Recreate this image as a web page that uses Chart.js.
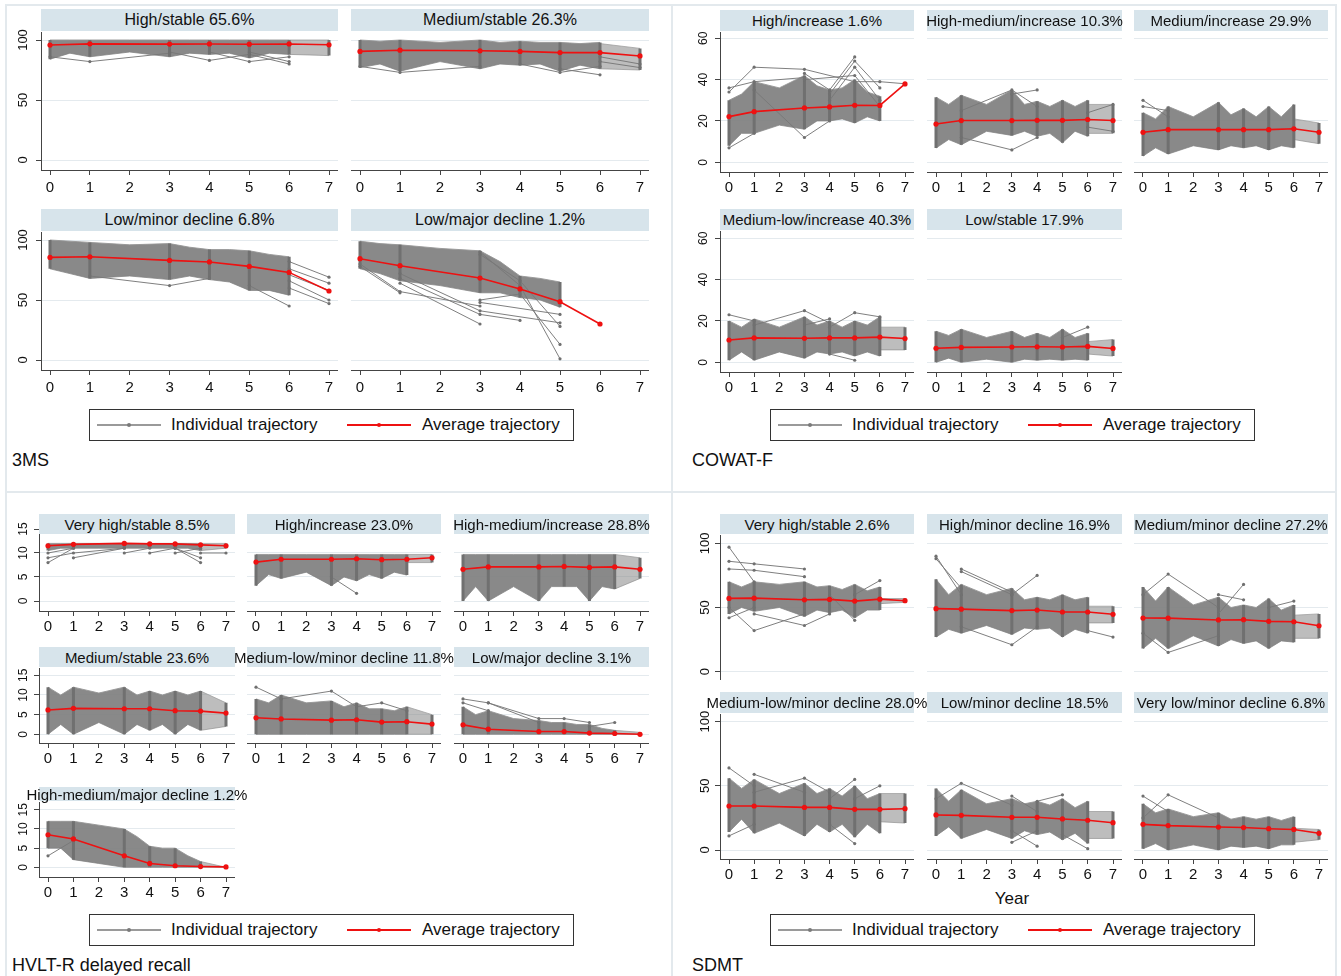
<!DOCTYPE html>
<html><head><meta charset="utf-8">
<script src="https://cdn.jsdelivr.net/npm/chart.js@4.4.1/dist/chart.umd.min.js"></script>
<style>
html,body{margin:0;padding:0;background:#fff;}
#stage{position:relative;width:1341px;height:976px;overflow:hidden;font-family:"Liberation Sans",Arial,Helvetica,sans-serif;color:#111;}
.frame{position:absolute;background:#e3e9ed;}
.hdr{position:absolute;background:#d7e4eb;display:flex;align-items:center;justify-content:center;white-space:nowrap;overflow:visible;color:#111;z-index:2;}
.legend{position:absolute;width:485px;height:32px;border:1px solid #333;box-sizing:border-box;background:#fff;}
.lgl{position:absolute;top:14px;width:64px;height:2px;}
.lgd{position:absolute;top:13px;width:4px;height:4px;border-radius:50%;}
.lgt{position:absolute;top:0;line-height:30px;font-size:17px;white-space:nowrap;color:#111;}
.ttl{position:absolute;font-size:18px;line-height:22px;white-space:nowrap;color:#111;}
</style></head>
<body><div id="stage"></div>
<script>
// ---------- shared axes / labels ----------
const YEARS = [0,1,2,3,4,5,6,7];
const YEAR_LABELS = ['0','1','2','3','4','5','6','7'];
const BAND_X = [0,0.5,1,2,3,3.5,4,4.5,5,5.5,6];
const TAIL_X = [6,7];
const LEGEND_LABELS = ['Individual trajectory','Average trajectory'];
const QUAD_TITLES = ['3MS','COWAT-F','HVLT-R delayed recall','SDMT'];
const X_TITLE = 'Year';

// ---------- 3MS ----------
const ms3_yticks = [0,50,100];
const ms3_labels = ['High/stable 65.6%','Medium/stable 26.3%','Low/minor decline 6.8%','Low/major decline 1.2%'];
const ms3_hs_avg = [95.8,96.8,null,96.6,96.7,96.5,96.7,96.0];
const ms3_hs_hi = [100,100,100,100,100,100,100,100,100,100,100];
const ms3_hs_lo = [84,89,86,90,86,89,88,89,85,89,88];
const ms3_hs_tailHi = [100,100];
const ms3_hs_tailLo = [88,87];
const ms3_hs_out = [[[0,86],[1,82],[3,89]],[[3,90],[4,83],[5,88]],[[4,90],[5,82],[6,86]],[[5,88],[6,80]],[[5,90],[6,82]]];

const ms3_ms_avg = [90.5,91.5,null,91,90.5,89.5,89.5,86.7];
const ms3_ms_hi = [100,99,100,98,100,98,99,98,98,97,98];
const ms3_ms_lo = [77,80,74,82,76,80,79,80,74,79,76];
const ms3_ms_tailHi = [97,93];
const ms3_ms_tailLo = [76,75];
const ms3_ms_out = [[[0,78],[1,73],[3,78]],[[4,80],[5,73],[6,78]],[[5,76],[6,71]],[[6,86],[7,80]],[[6,82],[7,77]]];

const ms3_lm_avg = [85.5,86,null,83,81.7,78,73,57.5];
const ms3_lm_hi = [100,99,98,96,97,94,92,92,91,88,86];
const ms3_lm_lo = [76,72,68,70,67,70,67,65,58,58,54];
const ms3_lm_out = [[[1,70],[3,62],[4,68]],[[5,62],[6,45]],[[6,82],[7,69]],[[6,76],[7,64]],[[6,66],[7,50]],[[6,60],[7,47]],[[6,71],[7,58]]];

const ms3_lj_avg = [84.4,78.6,null,68.3,59.2,48.6,30,null];
const ms3_lj_hi = [99,97,96,93,91,82,70,68,65,null,null];
const ms3_lj_lo = [76,72,66,62,56,56,52,50,44,null,null];
const ms3_lj_out = [[[0,80],[1,57],[3,45]],[[1,64],[3,30]],[[1,68],[3,38],[4,33]],[[1,72],[3,41],[5,31]],[[3,50],[4,55],[5,13]],[[3,90],[4,62],[5,1]],[[3,88],[4,66],[5,28]],[[3,48],[5,38]],[[0,78],[1,56]]];

// ---------- COWAT-F ----------
const cow_yticks = [0,20,40,60];
const cow_labels = ['High/increase 1.6%','High-medium/increase 10.3%','Medium/increase 29.9%','Medium-low/increase 40.3%','Low/stable 17.9%'];
const cow_hi_avg = [22.1,24.5,null,26.3,26.8,27.6,27.5,37.9];
const cow_hi_hi = [30,33,39,36,42,37,35,36,40,34,32];
const cow_hi_lo = [8,14,14,18,16,20,20,21,19,22,20];
const cow_hi_out = [[[0,36],[1,39],[3,41]],[[0,34],[1,46],[3,45],[5,39],[6,39],[7,38]],[[1,35],[3,12],[4,20]],[[3,43],[4,35],[5,51]],[[4,33],[5,49],[6,36]],[[4,30],[5,46],[6,30]],[[0,7],[1,14]],[[3,40],[5,42],[6,27]]];

const cow_hm_avg = [18.5,20.2,null,20.2,20.3,20.3,20.7,20.2];
const cow_hm_hi = [31.5,28,32.4,28,35,28,29.5,27,30,27,30];
const cow_hm_lo = [6.9,11,8.5,15,13,15,12.6,14,9.4,15,12.6];
const cow_hm_tailHi = [28,28];
const cow_hm_tailLo = [14,14];
const cow_hm_out = [[[1,25],[3,35],[4,27]],[[3,33],[4,35]],[[1,12],[3,6],[4,12]],[[6,24],[7,28]],[[6,17],[7,15]]];

const cow_m_avg = [14.5,15.8,null,15.8,15.8,15.8,16.2,14.5];
const cow_m_hi = [24,21,27,22,29,23,26,22,27,22,28];
const cow_m_lo = [3,7,4,8,6,8,7,8,6,8,7];
const cow_m_tailHi = [21,19];
const cow_m_tailLo = [11,9];
const cow_m_out = [[[0,30],[1,22]],[[0,27],[1,25]]];

const cow_ml_avg = [10.8,11.8,null,11.6,11.8,11.8,12.2,11.5];
const cow_ml_hi = [20,17,21,17,22,18,20,17,20,18,22];
const cow_ml_lo = [1,5,1,5,2,5,4,5,3,5,3];
const cow_ml_tailHi = [17,17];
const cow_ml_tailLo = [6,6];
const cow_ml_out = [[[0,23],[1,20]],[[1,18],[3,25],[4,19]],[[3,18],[4,21]],[[4,17],[5,24],[6,22]],[[4,4],[5,1]]];

const cow_l_avg = [6.8,7.2,null,7.4,7.5,7.4,7.7,6.7];
const cow_l_hi = [15,13,16,12,15,12,14,12,16,12,14];
const cow_l_lo = [0,2,0,1.5,0,1.5,1,1.5,1,1.5,1];
const cow_l_tailHi = [10,11];
const cow_l_tailLo = [4,3];
const cow_l_out = [[[5,12],[6,17]]];

// ---------- HVLT-R ----------
const hv_yticks = [0,5,10,15];
const hv_labels = ['Very high/stable 8.5%','High/increase 23.0%','High-medium/increase 28.8%','Medium/stable 23.6%','Medium-low/minor decline 11.8%','Low/major decline 3.1%','High-medium/major decline 1.2%'];
const hv_vh_avg = [11.5,11.8,null,12.0,11.9,11.9,11.7,11.5];
const hv_vh_hi = [12,12,12,12,12,12,12,12,12,12,12];
const hv_vh_lo = [10.5,11,11,11,11,11,11,11,11,11,10.5];
const hv_vh_tailHi = [12,12];
const hv_vh_tailLo = [10.5,11];
const hv_vh_out = [[[0,8],[1,11]],[[0,9],[1,10],[3,11]],[[1,9],[3,11]],[[3,10],[4,11]],[[4,10],[5,11]],[[5,10],[6,11]],[[5,11],[6,8]],[[5,11],[6,9]],[[6,10],[7,10]],[[0,10],[1,11]]];

const hv_hi_avg = [8.1,8.7,null,8.7,8.8,8.6,8.7,9.0];
const hv_hi_hi = [9.7,9.7,9.7,9.7,9.7,9.7,9.7,9.7,9.7,9.7,9.7];
const hv_hi_lo = [3.2,5.5,4.7,6,3.2,5,4.2,5.5,4.7,6,5.4];
const hv_hi_tailHi = [9.7,9.7];
const hv_hi_tailLo = [8,8];
const hv_hi_out = [[[3,5],[4,1.6]]];

const hv_hm_avg = [6.6,7.1,null,7.1,7.2,7.0,7.1,6.6];
const hv_hm_hi = [9.7,9.7,9.7,9.7,9.7,9.7,9.7,9.7,9.7,9.7,9.7];
const hv_hm_lo = [0,3,0,3,0,3,3,3,0,3,2.5];
const hv_hm_tailHi = [9.7,9];
const hv_hm_tailLo = [2.5,4.7];
const hv_hm_out = [];

const hv_ms_avg = [6.2,6.6,null,6.5,6.5,6.0,5.9,5.4];
const hv_ms_hi = [12,10,12,10.5,12,10,11,10,11,10,11];
const hv_ms_lo = [0,2.5,0,3,0,2.5,1,2.5,0,2.5,1];
const hv_ms_tailHi = [11,8];
const hv_ms_tailLo = [1,2];
const hv_ms_out = [];

const hv_ml_avg = [4.2,3.9,null,3.6,3.7,3.1,3.2,2.6];
const hv_ml_hi = [9,8,10,8,8.5,7,8,6.5,6.5,6,7];
const hv_ml_lo = [0,0,0,0,0,0,0,0,0,0,0];
const hv_ml_tailHi = [7,5];
const hv_ml_tailLo = [0,0];
const hv_ml_out = [[[0,12],[1,9]],[[1,9],[3,11],[4,7]],[[4,7],[5,8],[6,6]]];

const hv_lj_avg = [2.4,1.3,null,0.7,0.7,0.3,0.2,0];
const hv_lj_hi = [7,5,6,4,3.5,3,3,2.5,2.5,1.5,1];
const hv_lj_lo = [0,0,0,0,0,0,0,0,0,0,0];
const hv_lj_tailHi = [1,0.5];
const hv_lj_tailLo = [0,0];
const hv_lj_out = [[[0,9],[1,8],[3,4],[4,4],[5,3]],[[1,8],[3,3]],[[5,2],[6,3]],[[0,8],[1,6]]];

const hv_hmj_avg = [8.5,7.4,null,3.0,1.0,0.4,0.2,0.1];
const hv_hmj_hi = [12,12,12,11,10,8,5.5,5,5,3,1.5];
const hv_hmj_lo = [5,5,2,1,0,0,0,0,0,0,0];
const hv_hmj_tailHi = [1.5,0];
const hv_hmj_tailLo = [0,0];
const hv_hmj_out = [[[0,3],[1,7]]];

// ---------- SDMT ----------
const sd_yticks = [0,50,100];
const sd_labels = ['Very high/stable 2.6%','High/minor decline 16.9%','Medium/minor decline 27.2%','Medium-low/minor decline 28.0%','Low/minor decline 18.5%','Very low/minor decline 6.8%'];
const sd_vh_avg = [57.1,57.3,null,56,56.3,55,56.5,55.3];
const sd_vh_hi = [70,66,70,68,70,66,67,64,68,63,66];
const sd_vh_lo = [45,50,47,50,43,48,46,48,42,48,48];
const sd_vh_tailHi = [57,57];
const sd_vh_tailLo = [53,54];
const sd_vh_out = [[[0,97],[1,70]],[[0,86],[1,84],[3,80]],[[0,80],[1,79],[3,74]],[[0,42],[1,50]],[[0,50],[1,32],[3,45]],[[1,45],[3,36],[4,45]],[[4,60],[5,40]],[[5,60],[6,71]]];

const sd_hm_avg = [49.1,48.7,null,47.6,48,46.5,46.5,44.7];
const sd_hm_hi = [72,60,68,60,65,56,58,56,60,56,58];
const sd_hm_lo = [27,33,30,36,29,34,33,34,27,33,30];
const sd_hm_tailHi = [51,51];
const sd_hm_tailLo = [38,38];
const sd_hm_out = [[[0,90],[1,60]],[[0,88],[1,65]],[[1,80],[3,62]],[[1,78],[3,60]],[[3,60],[4,75]],[[1,35],[3,21],[4,35]],[[6,32],[7,27]]];

const sd_mm_avg = [41.8,41.7,null,40.3,40.5,39.2,38.9,35.8];
const sd_mm_hi = [66,55,66,52,58,50,52,50,57,48,52];
const sd_mm_lo = [18,26,18,28,20,25,22,24,18,24,23];
const sd_mm_tailHi = [44,45];
const sd_mm_tailLo = [26,26];
const sd_mm_out = [[[0,60],[1,76],[3,50]],[[3,60],[4,56]],[[3,45],[4,68]],[[0,30],[1,15],[3,28]],[[5,50],[6,55]]];

const sd_mlm_avg = [34.3,34.3,null,33.2,33.2,31.7,31.7,32.2];
const sd_mlm_hi = [56,48,55,44,52,44,48,42,50,40,44];
const sd_mlm_lo = [14,24,13,21,11,20,14,20,10,20,13];
const sd_mlm_tailHi = [44,44];
const sd_mlm_tailLo = [22,21];
const sd_mlm_out = [[[0,64],[1,50]],[[1,59],[3,45]],[[1,45],[3,56],[4,45]],[[4,40],[5,55]],[[5,40],[6,50]],[[4,20],[5,5]],[[0,11],[1,20]]];

const sd_lm_avg = [27.3,27,null,25.5,25.5,24.2,23.2,21.3];
const sd_lm_hi = [48,38,47,36,40,36,38,35,40,33,38];
const sd_lm_lo = [11,18,9,16,9,15,12,14,8,13,5];
const sd_lm_tailHi = [30,30];
const sd_lm_tailLo = [9,9];
const sd_lm_out = [[[0,40],[1,52],[3,35]],[[3,42],[4,30]],[[4,38],[5,43]],[[3,15],[4,3]],[[5,12],[6,1]],[[3,6],[4,15]]];

const sd_vl_avg = [20,19,null,17.9,17.5,16.6,16.0,13.0];
const sd_vl_hi = [36,29,32,26,29,24,26,24,26,23,26];
const sd_vl_lo = [1,5,0,4,0,3,2,3,1,4,4];
const sd_vl_tailHi = [17,16];
const sd_vl_tailLo = [6,8];
const sd_vl_out = [[[0,42],[1,30]],[[0,25],[1,43],[3,25]]];

// ---------- layout (pixels) ----------
const FONT = '"Liberation Sans", Arial, Helvetica, sans-serif';
const GEO = {
  ms3: {cols:[[41,338],[351,649]], yticks:ms3_yticks, hFont:16, xFont:15, xPad:4, yFont:13, yOff:18,
    rows:[{hTop:9,hH:22,top:32,bottom:170,y0:160,ppu:1.2,xAxis:true},
          {hTop:209,hH:22,top:232,bottom:370,y0:360,ppu:1.2,xAxis:true}]},
  cow: {cols:[[720,914],[927,1122],[1134,1328]], yticks:cow_yticks, hFont:15, xFont:15, xPad:2, yFont:12, yOff:16,
    rows:[{hTop:10,hH:21,top:32,bottom:172,y0:162.3,ppu:2.067,xAxis:true},
          {hTop:209,hH:21,top:231,bottom:372,y0:362.3,ppu:2.067,xAxis:true}]},
  hv: {cols:[[39,235],[247,441],[454,649]], yticks:hv_yticks, hFont:15, xFont:15, xPad:2, yFont:12, yOff:15.5,
    rows:[{hTop:514,hH:20,top:529,bottom:611,y0:601,ppu:4.8,xAxis:true},
          {hTop:647,hH:20,top:668,bottom:743,y0:734.3,ppu:3.93,xAxis:true},
          {hTop:787,hH:14,top:802,bottom:877,y0:867.3,ppu:3.83,xAxis:true}]},
  sd: {cols:[[720,914],[927,1122],[1134,1328]], yticks:sd_yticks, hFont:15, xFont:15, xPad:2, yFont:13, yOff:15,
    rows:[{hTop:514,hH:20,top:535,bottom:680,y0:671.7,ppu:1.284,xAxis:false},
          {hTop:692,hH:21,top:714,bottom:859,y0:850,ppu:1.283,xAxis:true}]}
};

const PANELS = [
  {g:'ms3',row:0,col:0,label:ms3_labels[0],avg:ms3_hs_avg,hi:ms3_hs_hi,lo:ms3_hs_lo,tHi:ms3_hs_tailHi,tLo:ms3_hs_tailLo,out:ms3_hs_out},
  {g:'ms3',row:0,col:1,label:ms3_labels[1],avg:ms3_ms_avg,hi:ms3_ms_hi,lo:ms3_ms_lo,tHi:ms3_ms_tailHi,tLo:ms3_ms_tailLo,out:ms3_ms_out},
  {g:'ms3',row:1,col:0,label:ms3_labels[2],avg:ms3_lm_avg,hi:ms3_lm_hi,lo:ms3_lm_lo,tHi:null,tLo:null,out:ms3_lm_out},
  {g:'ms3',row:1,col:1,label:ms3_labels[3],avg:ms3_lj_avg,hi:ms3_lj_hi,lo:ms3_lj_lo,tHi:null,tLo:null,out:ms3_lj_out},
  {g:'cow',row:0,col:0,label:cow_labels[0],avg:cow_hi_avg,hi:cow_hi_hi,lo:cow_hi_lo,tHi:null,tLo:null,out:cow_hi_out},
  {g:'cow',row:0,col:1,label:cow_labels[1],avg:cow_hm_avg,hi:cow_hm_hi,lo:cow_hm_lo,tHi:cow_hm_tailHi,tLo:cow_hm_tailLo,out:cow_hm_out},
  {g:'cow',row:0,col:2,label:cow_labels[2],avg:cow_m_avg,hi:cow_m_hi,lo:cow_m_lo,tHi:cow_m_tailHi,tLo:cow_m_tailLo,out:cow_m_out},
  {g:'cow',row:1,col:0,label:cow_labels[3],avg:cow_ml_avg,hi:cow_ml_hi,lo:cow_ml_lo,tHi:cow_ml_tailHi,tLo:cow_ml_tailLo,out:cow_ml_out},
  {g:'cow',row:1,col:1,label:cow_labels[4],avg:cow_l_avg,hi:cow_l_hi,lo:cow_l_lo,tHi:cow_l_tailHi,tLo:cow_l_tailLo,out:cow_l_out},
  {g:'hv',row:0,col:0,label:hv_labels[0],avg:hv_vh_avg,hi:hv_vh_hi,lo:hv_vh_lo,tHi:hv_vh_tailHi,tLo:hv_vh_tailLo,out:hv_vh_out},
  {g:'hv',row:0,col:1,label:hv_labels[1],avg:hv_hi_avg,hi:hv_hi_hi,lo:hv_hi_lo,tHi:hv_hi_tailHi,tLo:hv_hi_tailLo,out:hv_hi_out},
  {g:'hv',row:0,col:2,label:hv_labels[2],avg:hv_hm_avg,hi:hv_hm_hi,lo:hv_hm_lo,tHi:hv_hm_tailHi,tLo:hv_hm_tailLo,out:hv_hm_out},
  {g:'hv',row:1,col:0,label:hv_labels[3],avg:hv_ms_avg,hi:hv_ms_hi,lo:hv_ms_lo,tHi:hv_ms_tailHi,tLo:hv_ms_tailLo,out:hv_ms_out},
  {g:'hv',row:1,col:1,label:hv_labels[4],avg:hv_ml_avg,hi:hv_ml_hi,lo:hv_ml_lo,tHi:hv_ml_tailHi,tLo:hv_ml_tailLo,out:hv_ml_out},
  {g:'hv',row:1,col:2,label:hv_labels[5],avg:hv_lj_avg,hi:hv_lj_hi,lo:hv_lj_lo,tHi:hv_lj_tailHi,tLo:hv_lj_tailLo,out:hv_lj_out},
  {g:'hv',row:2,col:0,label:hv_labels[6],avg:hv_hmj_avg,hi:hv_hmj_hi,lo:hv_hmj_lo,tHi:hv_hmj_tailHi,tLo:hv_hmj_tailLo,out:hv_hmj_out},
  {g:'sd',row:0,col:0,label:sd_labels[0],avg:sd_vh_avg,hi:sd_vh_hi,lo:sd_vh_lo,tHi:sd_vh_tailHi,tLo:sd_vh_tailLo,out:sd_vh_out},
  {g:'sd',row:0,col:1,label:sd_labels[1],avg:sd_hm_avg,hi:sd_hm_hi,lo:sd_hm_lo,tHi:sd_hm_tailHi,tLo:sd_hm_tailLo,out:sd_hm_out},
  {g:'sd',row:0,col:2,label:sd_labels[2],avg:sd_mm_avg,hi:sd_mm_hi,lo:sd_mm_lo,tHi:sd_mm_tailHi,tLo:sd_mm_tailLo,out:sd_mm_out},
  {g:'sd',row:1,col:0,label:sd_labels[3],avg:sd_mlm_avg,hi:sd_mlm_hi,lo:sd_mlm_lo,tHi:sd_mlm_tailHi,tLo:sd_mlm_tailLo,out:sd_mlm_out},
  {g:'sd',row:1,col:1,label:sd_labels[4],avg:sd_lm_avg,hi:sd_lm_hi,lo:sd_lm_lo,tHi:sd_lm_tailHi,tLo:sd_lm_tailLo,out:sd_lm_out},
  {g:'sd',row:1,col:2,label:sd_labels[5],avg:sd_vl_avg,hi:sd_vl_hi,lo:sd_vl_lo,tHi:sd_vl_tailHi,tLo:sd_vl_tailLo,out:sd_vl_out}
];

const stage = document.getElementById('stage');
const mctx = document.createElement('canvas').getContext('2d');
function textW(s, size){ mctx.font = size + 'px ' + FONT; return mctx.measureText(s).width; }

function addDiv(cls, css, text){
  const d = document.createElement('div');
  d.className = cls; d.style.cssText = css;
  if (text != null) d.textContent = text;
  stage.appendChild(d); return d;
}

// quadrant frames
[[6,4,1330,2],[6,491,1330,2],[5,4,2,972],[671,4,2,972],[1335,4,2,972]].forEach(f =>
  addDiv('frame', `left:${f[0]}px;top:${f[1]}px;width:${f[2]}px;height:${f[3]}px`));

Chart.defaults.font.family = FONT;
Chart.defaults.color = '#111';

const RED = '#ee1111';
const xy = (xs, ys) => xs.map((x,i) => ({x, y: ys[i]}));

function makePanel(p){
  const g = GEO[p.g], r = g.rows[p.row];
  const L = g.cols[p.col][0], R = g.cols[p.col][1];
  const yW = p.col === 0 ? 40 : 0, xH = r.xAxis ? 30 : 0, M = 12;
  const W = yW + (R - L), H = M + (r.bottom - r.top) + xH;
  const cv = document.createElement('canvas');
  cv.width = W; cv.height = H;
  cv.style.cssText = `position:absolute;left:${L - yW}px;top:${r.top - M}px;width:${W}px;height:${H}px;z-index:1`;
  stage.appendChild(cv);

  const pad = 9, step = (R - L - 2 * pad) / 7;
  const xmin = -pad / step, xmax = 7 + pad / step;
  const ymin = -(r.bottom - r.y0) / r.ppu, ymax = (r.y0 - r.top) / r.ppu;

  const ds = [];
  ds.push({type:'line', data:xy(BAND_X, p.hi), borderColor:'rgba(150,150,150,0.9)', borderWidth:1,
    pointRadius:0, fill:'+1', backgroundColor:'rgba(128,128,128,0.93)', spanGaps:false, order:6});
  ds.push({type:'line', data:xy(BAND_X, p.lo), borderColor:'rgba(150,150,150,0.9)', borderWidth:1,
    pointRadius:0, fill:false, spanGaps:false, order:6});
  if (p.tHi) {
    ds.push({type:'line', data:xy(TAIL_X, p.tHi), borderColor:'rgba(160,160,160,0.8)', borderWidth:1,
      pointRadius:0, fill:'+1', backgroundColor:'rgba(135,135,135,0.55)', order:7});
    ds.push({type:'line', data:xy(TAIL_X, p.tLo), borderColor:'rgba(160,160,160,0.8)', borderWidth:1,
      pointRadius:0, fill:false, order:7});
  }
  const cols = [];
  BAND_X.forEach((x, i) => {
    if (Number.isInteger(x) && x !== 2 && p.hi[i] != null && p.lo[i] != null)
      cols.push({x, y:p.lo[i]}, {x, y:p.hi[i]}, {x, y:null});
  });
  if (p.tHi) cols.push({x:7, y:p.tLo[1]}, {x:7, y:p.tHi[1]}, {x:7, y:null});
  ds.push({type:'line', data:cols, borderColor:'#707070', borderWidth:3, pointRadius:0, fill:false, spanGaps:false, order:5});
  p.out.forEach(o => ds.push({type:'line', data:o.map(q => ({x:q[0], y:q[1]})), borderColor:'rgba(120,120,120,0.95)',
    borderWidth:1, pointRadius:1.6, pointBackgroundColor:'#707070', pointBorderWidth:0, fill:false, order:4}));
  ds.push({type:'line', data:YEARS.map((x, i) => ({x, y:p.avg[i]})).filter(d => d.y != null),
    borderColor:RED, borderWidth:1.6, pointRadius:2.6, pointBackgroundColor:RED, pointBorderWidth:0, fill:false, order:0});

  const widest = Math.max(...g.yticks.map(v => textW(String(v), g.yFont)));
  const yPad = g.yOff - 5 - widest / 2;

  new Chart(cv, {
    type:'line',
    data:{datasets:ds},
    options:{
      responsive:false, maintainAspectRatio:false, animation:false, devicePixelRatio:1,
      layout:{padding:{top:M, left:0, right:0, bottom:0}, autoPadding:false},
      plugins:{legend:{display:false}, tooltip:{enabled:false}, title:{display:false}},
      elements:{line:{tension:0}},
      scales:{
        x:{type:'linear', min:xmin, max:xmax, offset:false, display:r.xAxis,
          afterBuildTicks:s => { s.ticks = YEARS.map(v => ({value:v})); },
          afterFit:s => { s.height = xH; s.paddingLeft = 0; s.paddingRight = 0; s.paddingTop = 0; s.paddingBottom = 0; },
          ticks:{font:{family:FONT, size:g.xFont}, color:'#111', padding:g.xPad, autoSkip:false, maxRotation:0, minRotation:0,
            callback:v => YEAR_LABELS[v] != null ? YEAR_LABELS[v] : ''},
          grid:{display:true, drawOnChartArea:false, drawTicks:true, tickLength:5, tickColor:'#444', offset:false},
          border:{display:true, color:'#444', width:1}},
        y:{type:'linear', min:ymin, max:ymax, display:true,
          afterBuildTicks:s => { s.ticks = g.yticks.map(v => ({value:v})); },
          afterFit:s => { s.width = yW; s.paddingTop = 0; s.paddingBottom = 0; s.paddingLeft = 0; s.paddingRight = 0; },
          ticks: p.col === 0
            ? {display:true, font:{family:FONT, size:g.yFont}, color:'#111', padding:yPad, minRotation:90, maxRotation:90,
               crossAlign:'center', autoSkip:false, callback:v => String(v)}
            : {display:false},
          grid:{display:true, color:'#e4eaee', lineWidth:1, drawTicks:p.col === 0, tickLength:5, tickColor:'#444'},
          border:{display:p.col === 0, color:'#444', width:1}}
      }
    }
  });

  addDiv('hdr', `left:${L}px;top:${r.hTop}px;width:${R - L}px;height:${r.hH}px;font-size:${g.hFont}px;`, p.label);
}

PANELS.forEach(makePanel);

// legends
function legend(left, top){
  const d = addDiv('legend', `left:${left}px;top:${top}px;`);
  const parts = [
    ['lgl', 'left:7px;background:#9a9a9a'], ['lgd', 'left:37px;background:#7a7a7a'],
    ['lgt', 'left:81px', LEGEND_LABELS[0]],
    ['lgl', 'left:257px;background:' + RED], ['lgd', 'left:287px;background:' + RED],
    ['lgt', 'left:332px', LEGEND_LABELS[1]]
  ];
  parts.forEach(pt => {
    const e = document.createElement('div'); e.className = pt[0]; e.style.cssText = pt[1];
    if (pt[2]) e.textContent = pt[2];
    d.appendChild(e);
  });
}
legend(89, 409); legend(770, 409); legend(89, 914); legend(770, 914);

// quadrant titles
addDiv('ttl', 'left:12px;top:449px', QUAD_TITLES[0]);
addDiv('ttl', 'left:692px;top:449px', QUAD_TITLES[1]);
addDiv('ttl', 'left:12px;top:954px', QUAD_TITLES[2]);
addDiv('ttl', 'left:692px;top:954px', QUAD_TITLES[3]);
addDiv('ttl', 'left:962px;top:888px;width:100px;text-align:center;font-size:17px', X_TITLE);
</script>
</body></html>
